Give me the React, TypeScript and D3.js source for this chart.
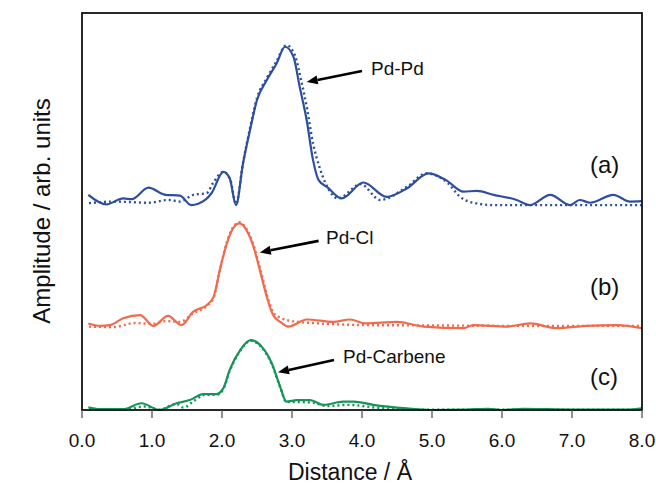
import React from "react";
import * as d3 from "d3";

// ---- Data (distance in Å, amplitude in arb. units, stacked) ----
const aSolidR = [0.09,0.35,0.59,0.71,0.95,1.19,1.40,1.56,1.76,1.85,2.02,2.11,2.20,2.30,2.40,2.50,2.64,2.78,2.90,3.02,3.11,3.21,3.30,3.38,3.50,3.71,4.02,4.35,4.64,4.95,5.20,5.45,5.64,5.88,6.21,6.40,6.69,6.97,7.11,7.26,7.59,7.83,8.00];
const aSolidA = [5.42,5.18,5.33,5.31,5.60,5.42,5.40,5.16,5.29,5.46,6.00,5.84,5.16,6.21,7.05,7.81,8.31,8.73,9.15,8.90,8.14,7.30,6.30,5.79,5.62,5.33,5.73,5.37,5.58,5.96,5.79,5.50,5.52,5.42,5.29,5.16,5.42,5.16,5.29,5.22,5.42,5.25,5.26];
const aFitR = [0.10,0.45,0.95,1.24,1.40,1.59,1.78,1.87,2.02,2.12,2.20,2.30,2.40,2.50,2.64,2.78,2.92,3.04,3.13,3.21,3.30,3.39,3.48,3.66,3.98,4.26,4.64,4.92,5.23,5.40,5.59,5.90,6.60,7.30,8.00];
const aFitA = [5.21,5.25,5.22,5.29,5.25,5.42,5.46,5.71,6.00,5.79,5.19,6.22,7.10,7.86,8.36,8.79,9.19,8.94,8.31,7.64,6.72,6.13,5.71,5.33,5.69,5.29,5.62,5.96,5.71,5.37,5.22,5.16,5.16,5.16,5.16];

const bSolidR = [0.09,0.26,0.40,0.59,0.83,1.02,1.23,1.42,1.59,1.78,1.88,1.97,2.07,2.16,2.25,2.35,2.45,2.54,2.64,2.73,2.83,2.95,3.21,3.59,3.83,4.05,4.50,4.88,5.45,5.59,6.07,6.40,6.78,7.20,7.64,8.00];
const bSolidA = [2.18,2.12,2.14,2.31,2.39,2.12,2.37,2.14,2.48,2.64,2.85,3.53,4.20,4.58,4.70,4.53,4.11,3.53,2.85,2.39,2.22,2.10,2.28,2.22,2.28,2.18,2.22,2.10,2.06,2.14,2.10,2.18,2.06,2.12,2.14,2.06];
const bFitR = [0.10,0.45,0.75,1.00,1.20,1.40,1.59,1.78,1.88,1.97,2.07,2.16,2.25,2.35,2.45,2.55,2.65,2.74,2.85,3.00,3.40,4.00,5.00,6.00,8.00];
const bFitA = [2.10,2.09,2.19,2.17,2.24,2.22,2.44,2.62,2.82,3.53,4.23,4.61,4.73,4.56,4.16,3.53,2.85,2.44,2.31,2.24,2.18,2.14,2.13,2.12,2.12];

const cSolidR = [0.09,0.26,0.59,0.85,1.11,1.35,1.54,1.73,1.92,2.02,2.11,2.26,2.41,2.57,2.71,2.83,2.92,3.07,3.26,3.45,3.73,3.88,4.16,4.64,4.97,5.50,5.80,6.00,6.30,7.00,7.80,8.00];
const cSolidA = [0.07,0.02,0.02,0.17,0.00,0.17,0.25,0.40,0.40,0.55,1.01,1.51,1.76,1.59,1.18,0.59,0.21,0.25,0.25,0.13,0.21,0.21,0.13,0.04,0.00,0.01,0.03,0.00,0.03,0.01,0.01,0.04];
const cFitR = [0.10,0.60,0.90,1.10,1.35,1.45,1.60,1.75,1.92,2.02,2.11,2.26,2.41,2.57,2.71,2.83,2.92,3.10,3.30,3.50,3.80,4.20,4.70,8.00];
const cFitA = [0.03,0.01,0.09,0.01,0.15,0.06,0.23,0.38,0.38,0.53,0.98,1.49,1.74,1.57,1.16,0.58,0.20,0.20,0.18,0.10,0.13,0.06,0.01,0.01];

const xTicks = [0, 1, 2, 3, 4, 5, 6, 7, 8];

const BLUE = "#2d4f9e";
const ORANGE = "#f26a4c";
const GREEN = "#179457";

const W = 656, H = 487;
const M = { left: 82, right: 642, top: 13, bottom: 410 };

export default function App() {
  const x = d3.scaleLinear().domain([0, 8]).range([M.left, M.right]);
  const y = d3.scaleLinear().domain([0, 10]).range([M.bottom, M.top]);
  const line = (rs: number[], as: number[]) =>
    d3.line<number>().x((_, i) => x(rs[i])).y((_, i) => y(as[i])).curve(d3.curveMonotoneX)(rs) || "";

  const series = [
    { r: aSolidR, a: aSolidA, c: BLUE, dash: undefined },
    { r: aFitR, a: aFitA, c: BLUE, dash: "2 3" },
    { r: bSolidR, a: bSolidA, c: ORANGE, dash: undefined },
    { r: bFitR, a: bFitA, c: ORANGE, dash: "2 3" },
    { r: cSolidR, a: cSolidA, c: GREEN, dash: undefined },
    { r: cFitR, a: cFitA, c: GREEN, dash: "2 3" },
  ];

  const arrows = [
    { label: "Pd-Pd", tip: [3.21, 8.26], tail: [4.0, 8.54], lx: 371, ly: 75 },
    { label: "Pd-Cl", tip: [2.54, 3.97], tail: [3.38, 4.26], lx: 326, ly: 244 },
    { label: "Pd-Carbene", tip: [2.8, 0.95], tail: [3.6, 1.26], lx: 343, ly: 363 },
  ];

  const panels = [
    { t: "(a)", ly: 173 },
    { t: "(b)", ly: 295 },
    { t: "(c)", ly: 385 },
  ];

  const font = "'Liberation Sans', Arial, sans-serif";

  return (
    <svg width={W} height={H} style={{ position: "absolute", left: 0, top: 0, background: "#fff" }} fontFamily={font}>
      {series.map((s, i) => (
        <path key={i} d={line(s.r, s.a)} fill="none" stroke={s.c} strokeWidth={s.dash ? 2.4 : 2.2}
          strokeDasharray={s.dash} strokeLinejoin="round" />
      ))}
      <rect x={M.left} y={M.top} width={M.right - M.left} height={M.bottom - M.top} fill="none" stroke="#111" strokeWidth={1.8} />
      {xTicks.map((t) => (
        <g key={t}>
          <line x1={x(t)} x2={x(t)} y1={M.bottom} y2={M.bottom + 8} stroke="#555" strokeWidth={1.3} />
          <text x={x(t)} y={447} textAnchor="middle" fontSize={19} fill="#111">{t.toFixed(1)}</text>
        </g>
      ))}
      <text x={350} y={480} textAnchor="middle" fontSize={23} fill="#111">Distance / Å</text>
      <text transform="translate(50,211) rotate(-90)" textAnchor="middle" fontSize={24} fill="#111">Amplitude / arb. units</text>
      {arrows.map((a, i) => {
        const x1 = x(a.tail[0]), y1 = y(a.tail[1]);
        const x2 = x(a.tip[0]), y2 = y(a.tip[1]);
        const ang = Math.atan2(y2 - y1, x2 - x1);
        const L = 11, Wd = 4.5;
        const bx = x2 - L * Math.cos(ang), by = y2 - L * Math.sin(ang);
        const px = -Math.sin(ang) * Wd, py = Math.cos(ang) * Wd;
        return (
          <g key={i}>
            <line x1={x1} y1={y1} x2={bx} y2={by} stroke="#000" strokeWidth={2.6} />
            <polygon points={`${x2},${y2} ${bx + px},${by + py} ${bx - px},${by - py}`} fill="#000" />
            <text x={a.lx} y={a.ly} fontSize={19} fill="#111">{a.label}</text>
          </g>
        );
      })}
      {panels.map((p) => (
        <text key={p.t} x={590} y={p.ly} fontSize={24} fill="#111">{p.t}</text>
      ))}
    </svg>
  );
}
